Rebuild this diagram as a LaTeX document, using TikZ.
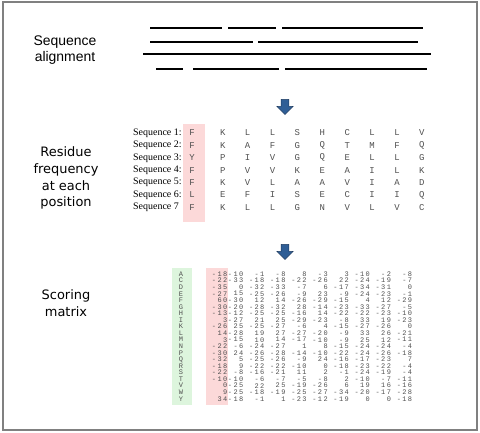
\documentclass[tikz,border=0pt]{standalone}
\usepackage{fontspec}
\setmainfont{Liberation Sans}
\newfontfamily\stepfont{DejaVu Sans}
\newfontfamily\seqfont{Liberation Serif}
\newfontfamily\resfont{Liberation Mono}
\newfontfamily\numfont[LetterSpace=20]{Liberation Mono}
\usetikzlibrary{shapes.arrows}
\definecolor{framegray}{HTML}{808080}
\definecolor{arrowblue}{HTML}{2F5E96}
\definecolor{arrowedge}{HTML}{1D3A5F}
\definecolor{colred}{HTML}{FCD9D9}
\definecolor{colgreen}{HTML}{DDF5DD}
\definecolor{textgray}{HTML}{505050}
\begin{document}
\begin{tikzpicture}[x=1bp, y=-1bp,
        steplabel/.style={align=center, font=\stepfont\fontsize{13}{17}\selectfont},
        downarrow/.style={single arrow, shape border rotate=270, draw=arrowedge, fill=arrowblue, line width=0.6bp,
            minimum height=15bp, minimum width=16bp, inner sep=3.5bp, single arrow head extend=4bp, single arrow head indent=0pt},
        alignline/.style={line width=1.6bp},
        seqlabel/.style={inner sep=0, anchor=west, font=\seqfont\fontsize{10}{10}\selectfont},
        residue/.style={inner sep=0, text=textgray, font=\resfont\fontsize{9}{9}\selectfont},
        score/.style={inner sep=0, anchor=east, text=textgray, font=\numfont\fontsize{7}{7}\selectfont}]
        \useasboundingbox (0,0) rectangle (480,433);
        \draw[framegray, line width=2bp] (3,2) rectangle (477,430);
        % alignment
        \node[font=\fontsize{14}{16}\selectfont, align=center] (alignlabel) at (65,50) {Sequence\\alignment};
        \draw[alignline] (150,28) -- (222,28) (228,28) -- (276,28) (282,28) -- (423,28);
        \draw[alignline] (150,42) -- (253,42) (258,42) -- (418,42);
        \draw[alignline] (143,54) -- (431,54);
        \draw[alignline] (156,69) -- (183,69) (193,69) -- (279,69) (285,69) -- (427,69);
        \node[downarrow] (arrow1) at (285,105) {};
        % residue frequency
        \node[steplabel] (freqlabel) at (66,178) {Residue\\frequency\\at each\\position};
        \fill[colred] (183,124) rectangle (205,222);
        \foreach \lab [count=\r from 0] in {Sequence 1:,Sequence 2:,Sequence 3:,Sequence 4:,Sequence 5:,Sequence 6:,Sequence 7}
            \node[seqlabel] (seq\r) at (133,133+12.4*\r) {\lab};
        \foreach \row [count=\r from 0] in {{F,K,L,L,S,H,C,L,L,V},{F,K,A,F,G,Q,T,M,F,Q},{Y,P,I,V,G,Q,E,L,L,G},
                {F,P,V,V,K,E,A,I,L,K},{F,K,V,L,A,A,V,I,A,D},{L,E,F,I,S,E,C,I,I,Q},{F,K,L,L,G,N,V,L,V,C}}
            \foreach \res [count=\c from 0] in \row {
                \pgfmathsetmacro\xpos{ifthenelse(\c==0,192,222.7+24.9*(\c-1))}
                \node[residue] (res-\r-\c) at (\xpos,133+12.4*\r) {\res};
            }
        \node[downarrow] (arrow2) at (285,250) {};
        % scoring matrix
        \node[steplabel] (scorelabel) at (66,303.5) {Scoring\\matrix};
        \fill[colgreen] (172,268) rectangle (192,405);
        \fill[colred] (206,268) rectangle (228,405);
        \foreach \aa [count=\r from 0] in {A,C,D,E,F,G,H,I,K,L,M,N,P,Q,R,S,T,V,W,Y}
            \node[score, anchor=center, font=\resfont\fontsize{7}{7}\selectfont] (aa-\r) at (181,274+6.57*\r) {\aa};
        \def\scorecols{{227.5,243.5,264.6,285.7,306.8,327.9,349,370.1,391.2,412.3}}
        \foreach \row [count=\r from 0] in {
                {-18,-10,-1,-8,8,-3,3,-10,-2,-8},{-22,-33,-18,-18,-22,-26,22,-24,-19,-7},
                {-35,0,-32,-33,-7,6,-17,-34,-31,0},{-27,15,-25,-26,-9,23,-9,-24,-23,-1},
                {60,-30,12,14,-26,-29,-15,4,12,-29},{-30,-20,-28,-32,28,-14,-23,-33,-27,-5},
                {-13,-12,-25,-25,-16,14,-22,-22,-23,-10},{3,-27,21,25,-29,-23,-8,33,19,-23},
                {-26,25,-25,-27,-6,4,-15,-27,-26,0},{14,-28,19,27,-27,-20,-9,33,26,-21},
                {3,-15,10,14,-17,-10,-9,25,12,-11},{-22,-6,-24,-27,1,8,-15,-24,-24,-4},
                {-30,24,-26,-28,-14,-10,-22,-24,-26,-18},{-32,5,-25,-26,-9,24,-16,-17,-23,7},
                {-18,9,-22,-22,-10,0,-18,-23,-22,-4},{-22,-8,-16,-21,11,2,-1,-24,-19,-4},
                {-10,-10,-6,-7,-5,-8,2,-10,-7,-11},{0,-25,22,25,-19,-26,6,19,16,-16},
                {9,-25,-18,-19,-25,-27,-34,-20,-17,-28},{34,-18,-1,1,-23,-12,-19,0,0,-18}}
            \foreach \v [count=\c from 0] in \row {
                \pgfmathsetmacro\xpos{\scorecols[\c]}
                \node[score] (sc-\r-\c) at (\xpos,274+6.57*\r) {\v};
            }
\end{tikzpicture}
\end{document}
